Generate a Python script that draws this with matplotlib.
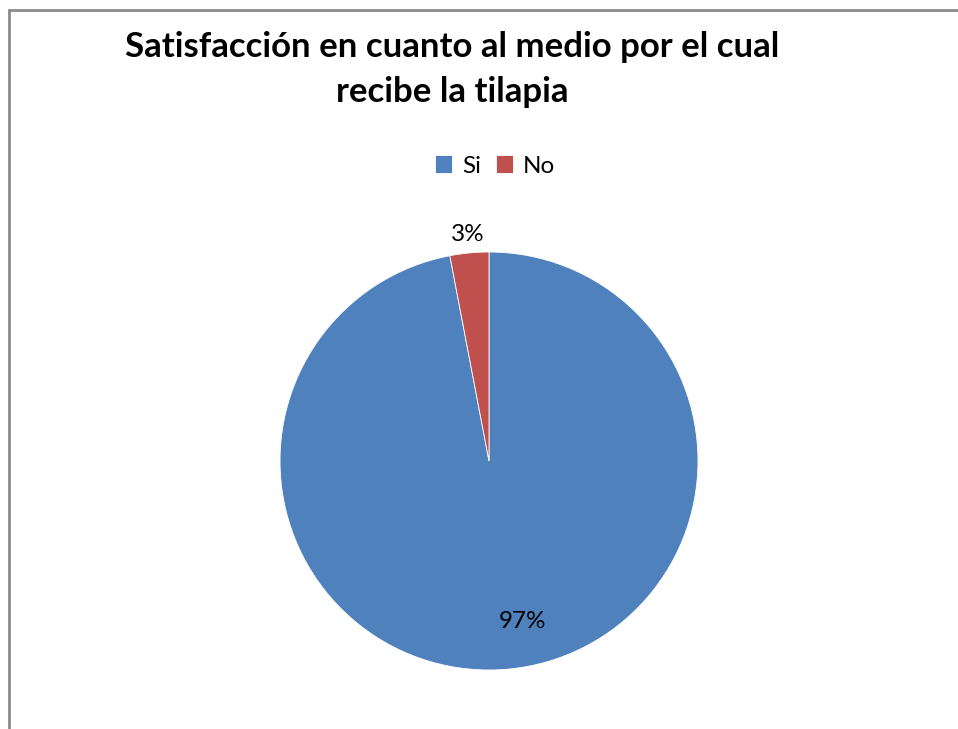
import matplotlib.pyplot as plt
from matplotlib.patches import Rectangle

# encuesta: satisfaccion con el medio de entrega
labels = ["Si", "No"]
values = [97, 3]
colors = ["#4F81BD", "#C0504D"]

plt.rcParams['font.family'] = ['Lato', 'DejaVu Sans']

W, H = 958, 729
fig = plt.figure(figsize=(W / 100, H / 100), dpi=100)
fig.patch.set_facecolor("white")

# marco del grafico (solo se ven los bordes izquierdo y superior)
fig.patches.append(Rectangle((9 / W, -0.05), 1.2, 1 - 10 / H + 0.05,
                             transform=fig.transFigure, fill=False,
                             edgecolor="#8c8c8c", linewidth=2))

# ejes cuadrados centrados en el pastel
cx, cy, r = 489, 461, 209
ax = fig.add_axes([(cx - r) / W, (H - cy - r) / H, 2 * r / W, 2 * r / H])
wedges, texts, autotexts = ax.pie(values, colors=colors, startangle=90, counterclock=False,
                                  autopct=lambda p: f"{p:.0f}%", pctdistance=1.09,
                                  radius=1, wedgeprops=dict(edgecolor="white", linewidth=0.6),
                                  textprops=dict(fontsize=17.5, color="black"))
ax.set_xlim(-1, 1)
ax.set_ylim(-1, 1)
ax.set_aspect("equal")

# etiqueta del segmento grande dentro del pastel
autotexts[0].set_position((0.16, -0.77))

fig.text(452 / W, 1 - 47 / H, "Satisfacción en cuanto al medio por el cual",
         ha="center", va="center", fontsize=25, fontweight="bold")
fig.text(452 / W, 1 - 92 / H, "recibe la tilapia",
         ha="center", va="center", fontsize=25, fontweight="bold")

fig.legend(wedges, labels, loc="center", bbox_to_anchor=(495 / W, 1 - 166 / H),
           ncol=2, frameon=False, fontsize=17.5, handlelength=0.7, handleheight=0.7,
           handletextpad=0.4, columnspacing=0.6)

fig.savefig("out.png", dpi=100)
